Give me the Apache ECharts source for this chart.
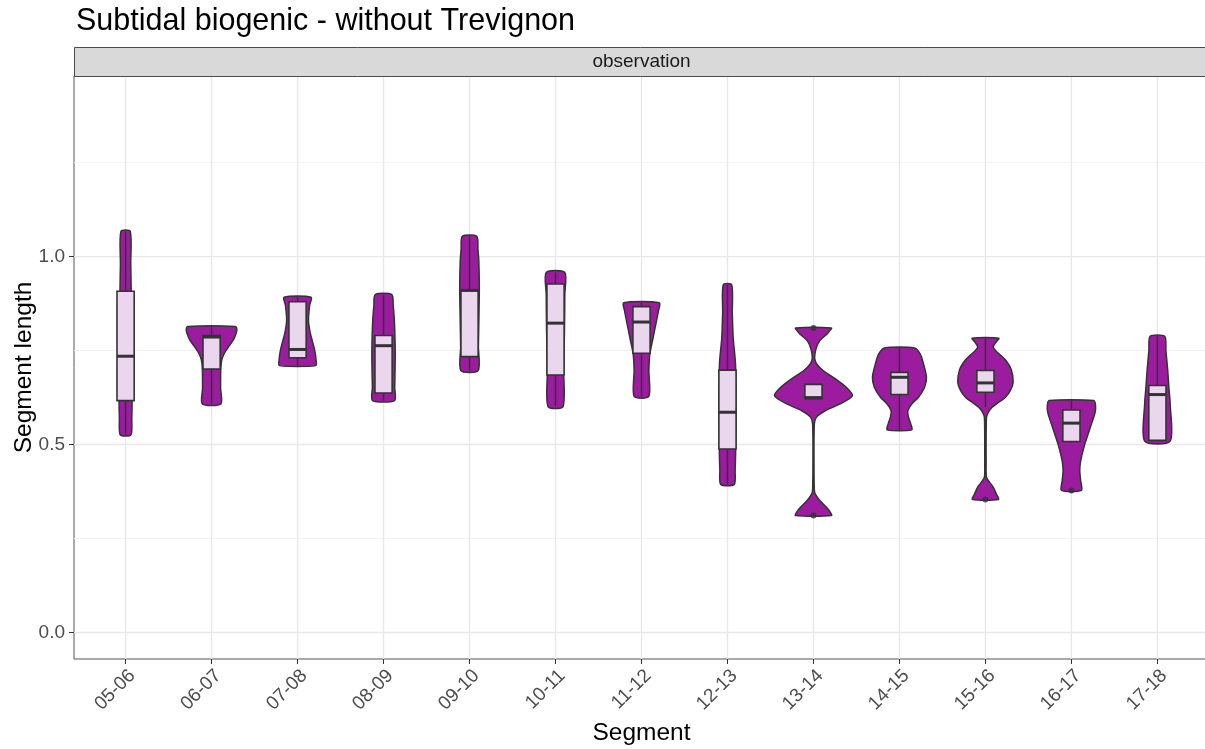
<!DOCTYPE html>
<html>
<head>
<meta charset="utf-8">
<script src="https://cdn.jsdelivr.net/npm/echarts@6/dist/echarts.min.js"></script>
<style>
html,body{margin:0;padding:0;background:#ffffff;}
#chart{width:1205px;height:749px;}
</style>
</head>
<body>
<div id="chart"></div>
<script>
// ---------- data ----------
const categories = ['05-06','06-07','07-08','08-09','09-10','10-11','11-12','12-13','13-14','14-15','15-16','16-17','17-18'];

// y tick labels / grid values
const yMajorTicks = [0, 0.5, 1.0];
const yMinorTicks = [0.25, 0.75, 1.25];

// box plot statistics
const q1          = [0.617, 0.701, 0.731, 0.637, 0.734, 0.685, 0.743, 0.488, 0.622, 0.633, 0.639, 0.508, 0.511];
const median      = [0.735, 0.786, 0.753, 0.763, 0.910, 0.823, 0.826, 0.586, 0.625, 0.679, 0.664, 0.557, 0.633];
const q3          = [0.908, 0.790, 0.880, 0.790, 0.912, 0.927, 0.867, 0.698, 0.660, 0.692, 0.697, 0.592, 0.657];
const whiskerLow  = [0.526, 0.608, 0.710, 0.617, 0.697, 0.601, 0.628, 0.394, 0.620, 0.539, 0.600, 0.505, 0.509];
const whiskerHigh = [1.067, 0.814, 0.892, 0.899, 1.054, 0.958, 0.877, 0.925, 0.662, 0.757, 0.783, 0.617, 0.788];

// outliers (segment index, value)
const outlierSegment = [8, 8, 10, 11];
const outlierValue   = [0.810, 0.311, 0.354, 0.378];

// violin outlines: y levels (top to bottom) and half widths (in category units)
const violinY = [
  [1.067, 0.98, 0.90, 0.75, 0.62, 0.57, 0.526],
  [0.814, 0.806, 0.794, 0.777, 0.759, 0.741, 0.725, 0.70, 0.65, 0.608],
  [0.892, 0.87, 0.83, 0.80, 0.777, 0.75, 0.725, 0.71],
  [0.899, 0.87, 0.83, 0.742, 0.652, 0.617],
  [1.054, 1.02, 0.989, 0.918, 0.85, 0.76, 0.697],
  [0.958, 0.90, 0.80, 0.70, 0.601],
  [0.877, 0.855, 0.83, 0.785, 0.741, 0.697, 0.628],
  [0.925, 0.85, 0.785, 0.715, 0.60, 0.484, 0.431, 0.394],
  [0.810, 0.803, 0.794, 0.777, 0.759, 0.741, 0.728, 0.715, 0.697, 0.679, 0.652, 0.630, 0.608, 0.590, 0.573, 0.555, 0.45, 0.38, 0.369, 0.351, 0.333, 0.322, 0.311],
  [0.757, 0.741, 0.715, 0.679, 0.652, 0.626, 0.608, 0.590, 0.573, 0.555, 0.539],
  [0.783, 0.772, 0.759, 0.745, 0.735, 0.723, 0.700, 0.666, 0.644, 0.626, 0.610, 0.599, 0.586, 0.573, 0.45, 0.413, 0.400, 0.387, 0.368, 0.354],
  [0.617, 0.605, 0.585, 0.555, 0.528, 0.493, 0.457, 0.431, 0.404, 0.378],
  [0.788, 0.75, 0.697, 0.65, 0.609, 0.509]
];
const violinW = [
  [0.054, 0.060, 0.066, 0.072, 0.076, 0.072, 0.062],
  [0.275, 0.294, 0.283, 0.250, 0.194, 0.145, 0.118, 0.107, 0.105, 0.108],
  [0.157, 0.140, 0.127, 0.145, 0.170, 0.200, 0.215, 0.212],
  [0.097, 0.112, 0.126, 0.136, 0.130, 0.128],
  [0.084, 0.098, 0.108, 0.114, 0.110, 0.103, 0.101],
  [0.108, 0.108, 0.104, 0.094, 0.087],
  [0.207, 0.196, 0.175, 0.136, 0.097, 0.086, 0.085],
  [0.049, 0.056, 0.066, 0.093, 0.099, 0.095, 0.089, 0.079],
  [0.209, 0.190, 0.159, 0.074, 0.035, 0.017, 0.015, 0.035, 0.112, 0.229, 0.384, 0.452, 0.310, 0.136, 0.035, 0.010, 0.006, 0.010, 0.020, 0.074, 0.151, 0.190, 0.209],
  [0.174, 0.241, 0.279, 0.314, 0.291, 0.221, 0.143, 0.097, 0.105, 0.131, 0.143],
  [0.155, 0.120, 0.090, 0.140, 0.190, 0.240, 0.300, 0.322, 0.290, 0.233, 0.140, 0.078, 0.035, 0.012, 0.008, 0.012, 0.047, 0.090, 0.128, 0.151],
  [0.260, 0.280, 0.275, 0.233, 0.194, 0.145, 0.108, 0.097, 0.107, 0.116],
  [0.085, 0.099, 0.120, 0.134, 0.148, 0.148]
];

// ---------- chart ----------
const X_MIN = 0.4, X_MAX = categories.length + 0.6;
const Y_MIN = -0.0705, Y_MAX = 1.4805;
const xPositions = categories.map((c, i) => i + 1);
const FONT = 'Liberation Sans, Arial, sans-serif';

const VIOLIN_FILL = '#9b1c9f';
const BOX_FILL = '#ead7ee';
const LINE = '#333333';

const chart = echarts.init(document.getElementById('chart'), null, {renderer: 'canvas'});

const gridData = []
  .concat(yMinorTicks.map(v => ['h', v, 'minor']))
  .concat(yMajorTicks.map(v => ['h', v, 'major']))
  .concat(xPositions.map(v => ['v', v, 'major']));

const outlierData = outlierSegment.map((s, k) => [s + 1, outlierValue[k]]);

const option = {
  animation: false,
  backgroundColor: '#ffffff',
  title: {
    text: 'Subtidal biogenic - without Trevignon',
    left: 71,
    top: 1,
    textStyle: {fontSize: 30.5, fontWeight: 'normal', color: '#000000', fontFamily: FONT}
  },
  grid: {
    left: 74, top: 76, width: 1135, height: 583,
    outerBoundsMode: 'none', containLabel: false,
    show: true, borderColor: '#555555', borderWidth: 1, backgroundColor: '#ffffff'
  },
  graphic: [
    {
      type: 'rect', left: 74, top: 47, z: 10,
      shape: {width: 1135, height: 29},
      style: {fill: '#d9d9d9', stroke: '#4a4a4a', lineWidth: 1}
    },
    {
      type: 'text', x: 641.5, y: 62, z: 11,
      style: {text: 'observation', fontSize: 19, fontFamily: FONT, fill: '#1a1a1a', textAlign: 'center', textVerticalAlign: 'middle'}
    }
  ],
  xAxis: {
    type: 'value', min: X_MIN, max: X_MAX,
    axisLine: {show: false, onZero: false},
    splitLine: {show: false},
    axisTick: {show: true, customValues: xPositions, length: 5, lineStyle: {color: LINE, width: 1}},
    axisLabel: {
      customValues: xPositions,
      formatter: v => categories[Math.round(v) - 1],
      rotate: 45, margin: 7, verticalAlign: 'top',
      fontSize: 19, color: '#4d4d4d', fontFamily: FONT
    },
    name: 'Segment', nameLocation: 'middle', nameGap: 54,
    nameTextStyle: {fontSize: 24.5, color: '#000000', fontFamily: FONT}
  },
  yAxis: {
    type: 'value', min: Y_MIN, max: Y_MAX,
    axisLine: {show: false, onZero: false},
    splitLine: {show: false},
    axisTick: {show: true, customValues: yMajorTicks, length: 5, lineStyle: {color: LINE, width: 1}},
    axisLabel: {
      customValues: yMajorTicks,
      formatter: v => v.toFixed(1),
      margin: 9, fontSize: 19, color: '#4d4d4d', fontFamily: FONT
    },
    name: 'Segment length', nameLocation: 'middle', nameGap: 37, nameMoveOverlap: false,
    nameTextStyle: {fontSize: 24.5, color: '#000000', fontFamily: FONT}
  },
  series: [
    {
      type: 'custom', name: 'grid', z: 1, silent: true,
      data: gridData,
      renderItem: function (params, api) {
        const d = gridData[params.dataIndex];
        let p1, p2;
        if (d[0] === 'h') { p1 = api.coord([X_MIN, d[1]]); p2 = api.coord([X_MAX, d[1]]); }
        else { p1 = api.coord([d[1], Y_MIN]); p2 = api.coord([d[1], Y_MAX]); }
        return {
          type: 'line',
          shape: {x1: p1[0], y1: p1[1], x2: p2[0], y2: p2[1]},
          style: {stroke: d[2] === 'major' ? '#e8e8e8' : '#f3f3f3', lineWidth: d[2] === 'major' ? 1.4 : 1}
        };
      }
    },
    {
      type: 'custom', name: 'violin', z: 2, silent: true,
      data: categories.map((c, i) => [i + 1]),
      renderItem: function (params, api) {
        const i = params.dataIndex;
        const ys = violinY[i], ws = violinW[i];
        const cx = i + 1;
        const pts = [];
        for (let k = 0; k < ys.length; k++) pts.push(api.coord([cx + ws[k], ys[k]]));
        for (let k = ys.length - 1; k >= 0; k--) pts.push(api.coord([cx - ws[k], ys[k]]));
        return {
          type: 'polygon',
          shape: {points: pts, smooth: 0.25},
          style: {fill: VIOLIN_FILL, stroke: LINE, lineWidth: 1.5}
        };
      }
    },
    {
      type: 'custom', name: 'box', z: 3, silent: true,
      data: categories.map((c, i) => [i + 1]),
      renderItem: function (params, api) {
        const i = params.dataIndex;
        const cx = i + 1, hw = 0.1;
        const wt = api.coord([cx, whiskerHigh[i]]);
        const wb = api.coord([cx, whiskerLow[i]]);
        const tl = api.coord([cx - hw, q3[i]]);
        const br = api.coord([cx + hw, q1[i]]);
        const ml = api.coord([cx - hw, median[i]]);
        const mr = api.coord([cx + hw, median[i]]);
        return {
          type: 'group',
          children: [
            {type: 'line', shape: {x1: wt[0], y1: wt[1], x2: wb[0], y2: wb[1]}, style: {stroke: LINE, lineWidth: 1.5}},
            {type: 'rect', shape: {x: tl[0], y: tl[1], width: br[0] - tl[0], height: br[1] - tl[1]},
             style: {fill: BOX_FILL, stroke: LINE, lineWidth: 1.6}},
            {type: 'line', shape: {x1: ml[0], y1: ml[1], x2: mr[0], y2: mr[1]}, style: {stroke: LINE, lineWidth: 3}}
          ]
        };
      }
    },
    {
      type: 'scatter', name: 'outliers', z: 4, silent: true,
      data: outlierData,
      symbol: 'circle', symbolSize: 6,
      itemStyle: {color: LINE}
    }
  ]
};

chart.setOption(option);
</script>
</body>
</html>
